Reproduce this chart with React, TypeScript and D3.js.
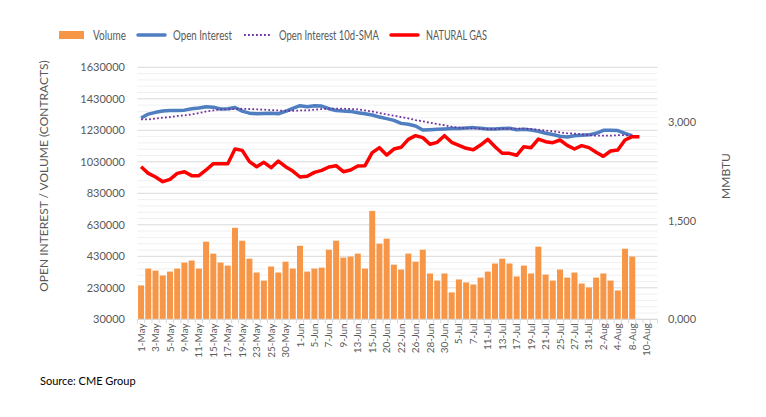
import { useEffect, useRef } from 'react'
import * as d3 from 'd3'

// trading days, 1-May .. 11-Aug (every other one gets a label)
const dates = [
  '1-May', '2-May', '3-May', '4-May', '5-May', '8-May', '9-May', '10-May', '11-May', '12-May',
  '15-May', '16-May', '17-May', '18-May', '19-May', '22-May', '23-May', '24-May', '25-May', '26-May',
  '30-May', '31-May', '1-Jun', '2-Jun', '5-Jun', '6-Jun', '7-Jun', '8-Jun', '9-Jun', '12-Jun',
  '13-Jun', '14-Jun', '15-Jun', '16-Jun', '20-Jun', '21-Jun', '22-Jun', '23-Jun', '26-Jun', '27-Jun',
  '28-Jun', '29-Jun', '30-Jun', '3-Jul', '5-Jul', '6-Jul', '7-Jul', '10-Jul', '11-Jul', '12-Jul',
  '13-Jul', '14-Jul', '17-Jul', '18-Jul', '19-Jul', '20-Jul', '21-Jul', '24-Jul', '25-Jul', '26-Jul',
  '27-Jul', '28-Jul', '31-Jul', '1-Aug', '2-Aug', '3-Aug', '4-Aug', '7-Aug', '8-Aug', '9-Aug',
  '10-Aug', '11-Aug',
]

const volume = [
  245000, 352000, 339000, 308000, 333000, 352000, 390000, 403000, 352000, 523000,
  447000, 390000, 371000, 611000, 529000, 415000, 327000, 276000, 365000, 327000,
  396000, 352000, 497000, 333000, 352000, 358000, 472000, 529000, 422000, 428000,
  447000, 352000, 718000, 510000, 542000, 377000, 346000, 447000, 396000, 472000,
  321000, 276000, 321000, 201000, 283000, 264000, 251000, 295000, 333000, 384000,
  415000, 384000, 302000, 371000, 321000, 491000, 314000, 276000, 346000, 295000,
  327000, 257000, 232000, 295000, 321000, 276000, 213000, 478000, 428000,
]

const openInterest = [
  1308000, 1333000, 1344000, 1352000, 1356000, 1356000, 1358000, 1367000, 1371000, 1379000,
  1377000, 1365000, 1367000, 1375000, 1352000, 1339000, 1335000, 1337000, 1339000, 1335000,
  1350000, 1369000, 1386000, 1379000, 1386000, 1384000, 1367000, 1356000, 1352000, 1350000,
  1342000, 1335000, 1327000, 1314000, 1304000, 1293000, 1274000, 1268000, 1257000, 1232000,
  1234000, 1236000, 1238000, 1241000, 1241000, 1245000, 1247000, 1243000, 1238000, 1238000,
  1241000, 1243000, 1234000, 1236000, 1232000, 1224000, 1211000, 1203000, 1192000, 1188000,
  1196000, 1199000, 1201000, 1211000, 1230000, 1230000, 1228000, 1211000, 1194000,
]

const oiSma = [
  1299000, 1299000, 1304000, 1310000, 1314000, 1321000, 1325000, 1331000, 1339000, 1350000,
  1356000, 1363000, 1363000, 1365000, 1367000, 1365000, 1363000, 1361000, 1358000, 1356000,
  1354000, 1354000, 1356000, 1356000, 1361000, 1365000, 1367000, 1367000, 1367000, 1365000,
  1363000, 1356000, 1350000, 1339000, 1331000, 1323000, 1314000, 1306000, 1295000, 1287000,
  1278000, 1270000, 1262000, 1253000, 1247000, 1243000, 1242000, 1241000, 1238000, 1238000,
  1241000, 1241000, 1241000, 1241000, 1238000, 1234000, 1228000, 1224000, 1217000, 1211000,
  1209000, 1205000, 1199000, 1196000, 1196000, 1196000, 1199000, 1199000, 1196000,
]

const natGas = [
  2.317, 2.216, 2.160, 2.089, 2.125, 2.216, 2.241, 2.181, 2.181, 2.267,
  2.363, 2.363, 2.363, 2.585, 2.565, 2.393, 2.317, 2.383, 2.302, 2.403,
  2.317, 2.251, 2.160, 2.171, 2.231, 2.261, 2.312, 2.332, 2.241, 2.267,
  2.327, 2.332, 2.530, 2.606, 2.494, 2.585, 2.611, 2.732, 2.788, 2.758,
  2.657, 2.687, 2.788, 2.687, 2.641, 2.596, 2.575, 2.646, 2.732, 2.621,
  2.520, 2.520, 2.490, 2.621, 2.606, 2.737, 2.697, 2.682, 2.722, 2.641,
  2.585, 2.636, 2.606, 2.535, 2.474, 2.555, 2.570, 2.722, 2.773, 2.773,
]

const leftTicks = [30000, 230000, 430000, 630000, 830000, 1030000, 1230000, 1430000, 1630000]
const rightTicks = [0, 1.5, 3]

const FONT = 'Lato, "Open Sans", sans-serif'
const GREY = '#595959'

export default function App() {
  const svgRef = useRef<SVGSVGElement>(null)

  useEffect(() => {
    const svg = d3.select(svgRef.current)
    svg.selectAll('*').remove()

    const W = 766, H = 417
    const left = 137.5, right = 657.5, top = 67.3, bottom = 319.3

    const x = d3.scaleBand<string>().domain(dates).range([left, right]).paddingInner(0.17).paddingOuter(0.08)
    const step = (right - left) / dates.length
    const cx = (i: number) => left + step * (i + 0.5)
    const y = d3.scaleLinear().domain([30000, 1630000]).range([bottom, top])
    // secondary axis: 3,000 sits at y=121.7
    const yR = d3.scaleLinear().domain([0, 3]).range([bottom, 121.7])

    const g = svg.attr('width', W).attr('height', H).append('g')
    g.append('rect').attr('width', W).attr('height', H).attr('fill', '#ffffff')

    // minor + major gridlines
    d3.range(30000, 1630001, 40000).forEach((v) => {
      const major = (v - 30000) % 200000 === 0
      g.append('line').attr('x1', left).attr('x2', right).attr('y1', y(v)).attr('y2', y(v))
        .attr('stroke', major ? '#d9d9d9' : '#f0f0f0').attr('stroke-width', 1)
    })

    // volume bars
    volume.forEach((v, i) => {
      g.append('rect').attr('x', x(dates[i])!).attr('width', x.bandwidth())
        .attr('y', y(v)).attr('height', bottom - y(v)).attr('fill', '#f79646')
    })

    // x axis + ticks
    g.append('line').attr('x1', left).attr('x2', right).attr('y1', bottom).attr('y2', bottom)
      .attr('stroke', '#d9d9d9')
    d3.range(dates.length + 1).forEach((i) => {
      const tx = left + step * i
      g.append('line').attr('x1', tx).attr('x2', tx).attr('y1', bottom).attr('y2', bottom + 4)
        .attr('stroke', '#d9d9d9')
    })
    dates.forEach((d, i) => {
      if (i % 2) return
      g.append('text').attr('transform', `translate(${cx(i) + 3.5},${bottom + 4}) rotate(-90)`)
        .attr('text-anchor', 'end').attr('font-size', '10px').attr('font-family', FONT)
        .attr('fill', GREY).text(d)
    })

    // lines
    const line = d3.line<number>().x((_, i) => cx(i)).y((v) => y(v))
    const lineR = d3.line<number>().x((_, i) => cx(i)).y((v) => yR(v))

    g.append('path').attr('d', line(openInterest)).attr('fill', 'none')
      .attr('stroke', '#4f7fc0').attr('stroke-width', 3.5).attr('stroke-linejoin', 'round')
    g.append('path').attr('d', line(oiSma)).attr('fill', 'none')
      .attr('stroke', '#7030a0').attr('stroke-width', 1.8).attr('stroke-dasharray', '1.8,2.2')
    g.append('path').attr('d', lineR(natGas)).attr('fill', 'none')
      .attr('stroke', '#ff0000').attr('stroke-width', 3.5).attr('stroke-linejoin', 'round')

    // left axis
    leftTicks.forEach((v) => {
      g.append('text').attr('x', 125).attr('y', y(v) + 4).attr('text-anchor', 'end')
        .attr('font-size', '11px').attr('font-family', FONT).attr('fill', GREY).text(String(v))
    })
    g.append('text').attr('transform', `translate(48,176) rotate(-90)`).attr('text-anchor', 'middle')
      .attr('font-size', '12px').attr('font-family', FONT).attr('fill', GREY)
      .text('OPEN INTEREST / VOLUME (CONTRACTS)')

    // right axis
    rightTicks.forEach((v) => {
      g.append('text').attr('x', 668).attr('y', yR(v) + 4)
        .attr('font-size', '11px').attr('font-family', FONT).attr('fill', GREY)
        .text(v.toFixed(3).replace('.', ','))
    })
    g.append('text').attr('transform', `translate(730,176) rotate(-90)`).attr('text-anchor', 'middle')
      .attr('font-size', '12px').attr('font-family', FONT).attr('fill', GREY).text('MMBTU')

    // legend (text squeezed to the narrow widths of the original font)
    const legend = [
      { label: 'Volume', x: 59, w: 33, kind: 'bar', color: '#f79646' },
      { label: 'Open Interest', x: 138, w: 59, kind: 'line', color: '#4f7fc0' },
      { label: 'Open Interest 10d-SMA', x: 244, w: 100, kind: 'dot', color: '#7030a0' },
      { label: 'NATURAL GAS', x: 391, w: 61, kind: 'line', color: '#ff0000' },
    ]
    legend.forEach(({ label, x: lx, w, kind, color }) => {
      if (kind === 'bar') {
        g.append('rect').attr('x', lx).attr('y', 31).attr('width', 25).attr('height', 8).attr('fill', color)
      } else {
        g.append('line').attr('x1', lx).attr('x2', lx + 27).attr('y1', 35).attr('y2', 35)
          .attr('stroke', color).attr('stroke-width', kind === 'dot' ? 1.8 : 3.5)
          .attr('stroke-dasharray', kind === 'dot' ? '1.8,2.2' : null)
          .attr('stroke-linecap', kind === 'dot' ? 'butt' : 'round')
      }
      g.append('text').attr('x', lx + (kind === 'bar' ? 34 : 35)).attr('y', 39.5)
        .attr('font-size', '13px').attr('font-family', FONT).attr('fill', GREY)
        .attr('textLength', w).attr('lengthAdjust', 'spacingAndGlyphs').text(label)
    })

    // source
    g.append('text').attr('x', 40).attr('y', 385).attr('font-size', '11px').attr('font-family', FONT)
      .attr('fill', '#000000').text('Source: CME Group')
  }, [])

  return (
    <div style={{ position: 'absolute', left: 0, top: 0 }}>
      <svg ref={svgRef} style={{ display: 'block' }} />
    </div>
  )
}
